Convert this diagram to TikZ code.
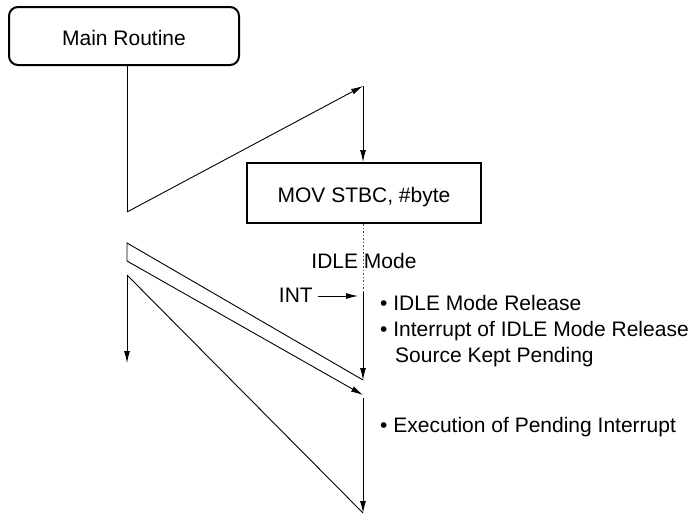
\documentclass[tikz,border=0pt]{standalone}
\usepackage{fontspec}
\setmainfont{Liberation Sans}
\usetikzlibrary{arrows.meta}
\begin{document}
\begin{tikzpicture}[x=1pt,y=-1pt,
  conn/.style={line width=0.9pt},
  arr/.style={conn,-{Latex[length=12pt,width=6pt]}},
  dots/.style={line width=0.9pt,dash pattern=on 1.5pt off 2pt,black!70},
  box/.style={draw,line width=2pt,inner sep=0pt,text height=19pt,text depth=0pt,font=\fontsize{21}{25}\selectfont},
  lbl/.style={inner sep=0pt,anchor=base west,font=\fontsize{21}{25}\selectfont}]
\useasboundingbox (0,0) rectangle (695,514);
% boxes
\node[box,rounded corners=9pt,minimum width=230pt,minimum height=58pt] (main) at (124,36) {Main Routine};
\node[box,minimum width=234pt,minimum height=60pt] (mov) at (364,193) {MOV STBC, \#byte};
% coordinates
\coordinate (m1) at (127,212);
\coordinate (p1) at (363,86);
\coordinate (d2) at (363,292);
\coordinate (a1) at (363,380);
\coordinate (a2) at (363,395);
\coordinate (a3) at (363,398);
\coordinate (a4) at (363,513);
\coordinate (b1) at (127,243);
\coordinate (b2) at (127,261);
\coordinate (c1) at (127,275);
\coordinate (c2) at (127,363);
\coordinate (i1) at (318,296);
\coordinate (i2) at (358,296);
% connectors
\draw[conn] (main.south -| m1) -- (m1);
\draw[arr] (m1) -- (p1);
\draw[arr] (p1) -- (mov.north -| p1);
\draw[dots] (mov.south -| p1) -- (d2);
\draw[arr] (d2) -- (a1);
\draw[conn] (a1) -- (b1) -- (b2);
\draw[arr] (b2) -- (a2);
\draw[arr] (a3) -- (a4);
\draw[conn] (c1) -- (a4);
\draw[arr] (c1) -- (c2);
\draw[arr] (i1) -- (i2);
% labels
\node[lbl,anchor=base] (idle) at (364,268) {IDLE Mode};
\node[lbl,anchor=base east] (int) at (313,302) {INT};
\node[lbl] (r1) at (380,310) {• IDLE Mode Release};
\node[lbl] (r2) at (380,336) {• Interrupt of IDLE Mode Release};
\node[lbl] (r3) at (395,362) {Source Kept Pending};
\node[lbl] (r4) at (380,432) {• Execution of Pending Interrupt};
\end{tikzpicture}
\end{document}
